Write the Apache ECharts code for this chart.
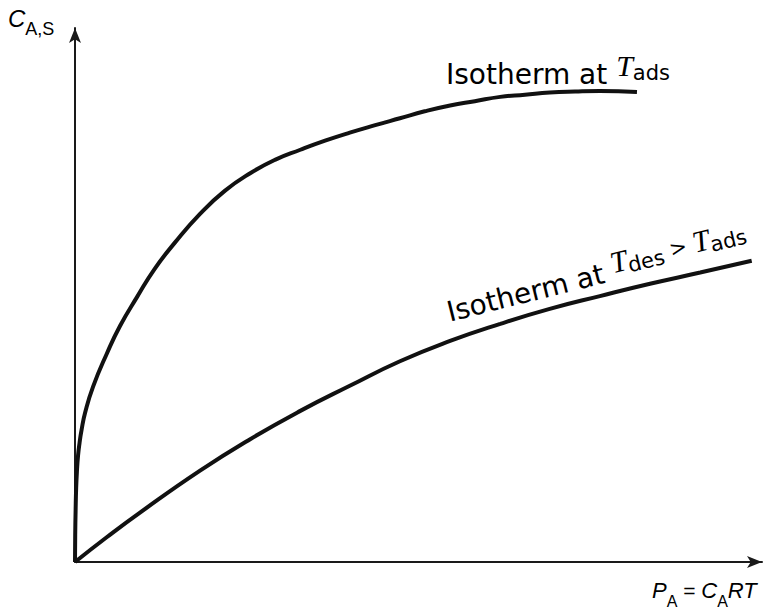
<!DOCTYPE html>
<html>
<head>
<meta charset="utf-8">
<script src="https://cdn.jsdelivr.net/npm/echarts@6/dist/echarts.min.js"></script>
<style>
html,body{margin:0;padding:0;background:#fff;}
#chart{width:780px;height:609px;}
</style>
</head>
<body>
<div id="chart"></div>
<script>
// Isotherm at T_ads (x = P_A, y = C_A,S), arbitrary units 0-100
const adsX = [0, 0.03, 0.09, 0.17, 0.29, 0.44, 0.66, 0.95, 1.46, 2.62, 4.66, 6.55, 9.02, 11.6, 14.6, 18.2, 21.8, 25.5, 29.1, 32.8, 36.4, 40.0, 43.7, 47.3, 50.9, 54.6, 58.2, 61.9, 65.5, 69.1, 72.8, 76.4, 81.8];
const adsY = [0, 5.1, 9.7, 13.9, 17.2, 19.9, 22.3, 24.7, 27.9, 32.8, 39.1, 44.2, 49.6, 54.9, 59.9, 65.2, 69.5, 72.8, 75.3, 77.2, 78.9, 80.4, 81.8, 83.1, 84.4, 85.5, 86.3, 87.1, 87.5, 87.9, 88.1, 88.2, 88.0];
// Isotherm at T_des > T_ads
const desX = [0, 4.66, 9.46, 18.2, 25.5, 32.8, 40.0, 47.3, 54.6, 61.9, 69.1, 76.4, 83.7, 91.0, 98.5];
const desY = [0, 4.68, 9.25, 17.1, 23.0, 28.3, 33.0, 37.6, 41.4, 44.6, 47.4, 49.8, 52.1, 54.2, 56.4];

const sans = '"Liberation Sans", Arial, Helvetica, sans-serif';
const wide = '"DejaVu Sans", Verdana, sans-serif';
const serif = '"Liberation Serif", "Times New Roman", serif';
const ink = '#111';

const chart = echarts.init(document.getElementById('chart'), null, {renderer: 'svg'});

const axisCommon = {
  type: 'value', min: 0, max: 100,
  axisLine: {show: true, symbol: ['none', 'arrow'], symbolSize: [9, 15], lineStyle: {color: '#1a1a1a', width: 2}},
  axisTick: {show: false}, axisLabel: {show: false}, splitLine: {show: false}
};

// all tokens top-aligned; the token "height" sets where its centre sits in the line
const labelRich = {
  n: {fontFamily: wide, fontSize: 28, color: ink, lineHeight: 30, height: 30, verticalAlign: 'top'},
  t: {fontFamily: serif, fontStyle: 'italic', fontSize: 30, color: ink, lineHeight: 30, height: 13, verticalAlign: 'top'},
  s: {fontFamily: wide, fontSize: 21, color: ink, lineHeight: 30, height: 27, verticalAlign: 'top'},
  g: {fontFamily: wide, fontSize: 21, color: ink, lineHeight: 30, height: 16, verticalAlign: 'top'}
};

const option = {
  backgroundColor: '#fff',
  animation: false,
  grid: {left: 75, right: 18, top: 28, bottom: 47, containLabel: false},
  xAxis: axisCommon,
  yAxis: axisCommon,
  series: [
    {
      type: 'line', name: 'Isotherm at T_ads',
      data: adsX.map((x, i) => [x, adsY[i]]),
      smooth: 0.5, showSymbol: false,
      lineStyle: {color: ink, width: 4}
    },
    {
      type: 'line', name: 'Isotherm at T_des > T_ads',
      data: desX.map((x, i) => [x, desY[i]]),
      smooth: 0.5, showSymbol: false,
      lineStyle: {color: ink, width: 4}
    }
  ],
  graphic: [
    {
      type: 'text', x: 8, y: 8,
      style: {
        text: '{c|C}{s|A,S}',
        rich: {
          c: {fontFamily: sans, fontStyle: 'italic', fontSize: 24, color: ink, lineHeight: 24, height: 21, verticalAlign: 'top'},
          s: {fontFamily: sans, fontSize: 18, color: ink, lineHeight: 24, height: 41, verticalAlign: 'top'}
        },
        align: 'left', verticalAlign: 'top'
      }
    },
    {
      type: 'text', x: 652, y: 578,
      style: {
        text: '{c|P}{s|A}{n| = }{c|C}{s|A}{c|RT}',
        rich: {
          c: {fontFamily: sans, fontStyle: 'italic', fontSize: 22, color: ink, lineHeight: 24, height: 25, verticalAlign: 'top'},
          n: {fontFamily: sans, fontSize: 21, color: ink, lineHeight: 24, height: 25, verticalAlign: 'top'},
          s: {fontFamily: sans, fontSize: 16, color: ink, lineHeight: 24, height: 47, verticalAlign: 'top'}
        },
        align: 'left', verticalAlign: 'top'
      }
    },
    {
      type: 'text', x: 446, y: 59,
      style: {
        text: '{n|Isotherm at }{t|T}{s|ads}',
        rich: labelRich,
        align: 'left', verticalAlign: 'top'
      }
    },
    {
      type: 'text', x: 451, y: 327, rotation: 14 * Math.PI / 180,
      style: {
        text: '{n|Isotherm at }{t|T}{s|des}{g| > }{t|T}{s|ads}',
        rich: labelRich,
        align: 'left', verticalAlign: 'bottom'
      }
    }
  ]
};
chart.setOption(option);
</script>
</body>
</html>
